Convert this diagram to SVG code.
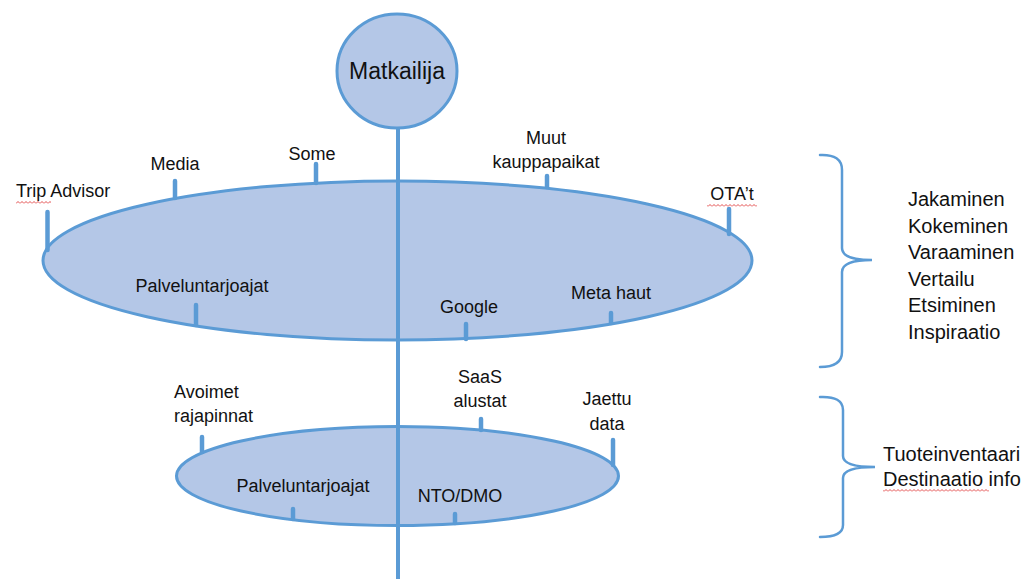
<svg xmlns="http://www.w3.org/2000/svg" width="1034" height="579" viewBox="0 0 1034 579">
<style>
.shape{fill:#b4c7e7;stroke:#5b9bd5;stroke-width:3}
.tick{stroke:#5b9bd5;stroke-width:4.5;stroke-linecap:round;fill:none}
.axis{stroke:#5b9bd5;stroke-width:4;fill:none}
.brace{stroke:#5b9bd5;stroke-width:2.5;fill:none;stroke-linecap:round}
text{font-family:"Liberation Sans",Arial,sans-serif;fill:#111111}
.lbl{font-size:18px}
.big{font-size:20px}
.mid{text-anchor:middle}
</style>
<defs>
<pattern id="sq" width="4" height="3" patternUnits="userSpaceOnUse">
<path d="M0,2.5 L2,0.5 L4,2.5" stroke="#e03a3a" stroke-width="0.9" fill="none"/>
</pattern>
</defs>
<rect width="1034" height="579" fill="#ffffff"/>

<g id="ellipse-top">
<ellipse class="shape" cx="397.5" cy="260.5" rx="354.5" ry="79.5"/>
</g>
<g id="ellipse-bottom">
<ellipse class="shape" cx="397.5" cy="476" rx="221" ry="49.5"/>
</g>

<g id="connectors">
<line class="axis" x1="398" y1="127" x2="398" y2="579"/>
<line class="tick" x1="47.5" y1="212" x2="47.5" y2="250"/>
<line class="tick" x1="175" y1="181" x2="175" y2="198"/>
<line class="tick" x1="316" y1="164" x2="316" y2="183"/>
<line class="tick" x1="547" y1="176" x2="547" y2="187"/>
<line class="tick" x1="729" y1="209" x2="729" y2="234"/>
<line class="tick" x1="196" y1="305" x2="196" y2="325"/>
<line class="tick" x1="466" y1="324" x2="466" y2="339"/>
<line class="tick" x1="611" y1="313" x2="611" y2="323"/>
<line class="tick" x1="202" y1="437" x2="202" y2="452"/>
<line class="tick" x1="481" y1="419" x2="481" y2="430"/>
<line class="tick" x1="613" y1="440" x2="613" y2="465"/>
<line class="tick" x1="293" y1="509" x2="293" y2="519"/>
<line class="tick" x1="455" y1="514" x2="455" y2="523"/>
</g>

<g id="matkailija">
<ellipse class="shape" cx="397" cy="71" rx="60" ry="57"/>
<text class="mid" x="397" y="79" font-size="23">Matkailija</text>
</g>

<g id="labels-top">
<text class="lbl" x="16" y="197">Trip Advisor</text>
<rect x="16" y="201" width="35" height="3" fill="url(#sq)"/>
<text class="lbl mid" x="175" y="170">Media</text>
<text class="lbl mid" x="312" y="160">Some</text>
<text class="lbl mid" x="546" y="144">Muut</text>
<text class="lbl mid" x="546" y="168">kauppapaikat</text>
<text class="lbl mid" x="732" y="200">OTA’t</text>
<rect x="707" y="204" width="50" height="3" fill="url(#sq)"/>
<text class="lbl mid" x="202" y="292">Palveluntarjoajat</text>
<text class="lbl mid" x="469" y="313">Google</text>
<text class="lbl mid" x="611" y="299">Meta haut</text>
</g>

<g id="labels-bottom">
<text class="lbl" x="174" y="398">Avoimet</text>
<text class="lbl" x="174" y="422">rajapinnat</text>
<text class="lbl mid" x="480" y="383">SaaS</text>
<text class="lbl mid" x="480" y="407">alustat</text>
<text class="lbl mid" x="607" y="405">Jaettu</text>
<text class="lbl mid" x="607" y="430">data</text>
<text class="lbl mid" x="303" y="492">Palveluntarjoajat</text>
<text class="lbl mid" x="460" y="502">NTO/DMO</text>
</g>

<g id="brace-top">
<path class="brace" d="M820,155 Q842,154 842,170 V248 Q842,260 872,260 Q842,260 842,272 V352 Q842,367 820,367"/>
<text class="big" x="908" y="206">Jakaminen</text>
<text class="big" x="908" y="232.5">Kokeminen</text>
<text class="big" x="908" y="259">Varaaminen</text>
<text class="big" x="908" y="285.5">Vertailu</text>
<text class="big" x="908" y="312">Etsiminen</text>
<text class="big" x="908" y="338.5">Inspiraatio</text>
</g>

<g id="brace-bottom">
<path class="brace" d="M820,397 Q843,396 843,410 V456 Q843,467 875,467 Q843,467 843,478 V525 Q843,537 820,537"/>
<text class="big" x="883" y="461">Tuoteinventaari</text>
<text class="big" x="883" y="486">Destinaatio info</text>
<rect x="883" y="489" width="106" height="3" fill="url(#sq)"/>
</g>
</svg>
